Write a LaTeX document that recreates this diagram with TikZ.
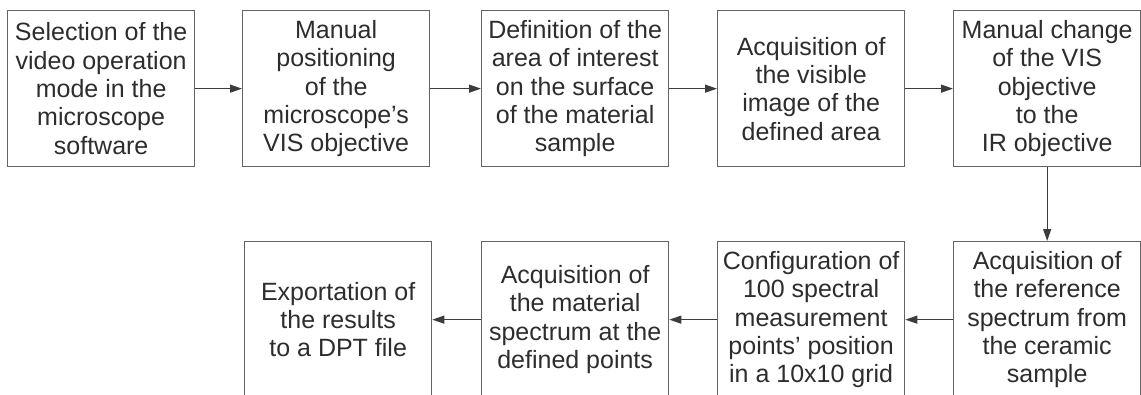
\documentclass[tikz,border=0pt]{standalone}
\usepackage{fontspec}
\setmainfont{Liberation Sans}
\usetikzlibrary{arrows.meta}
\definecolor{inkgray}{RGB}{45,45,45}
\definecolor{framegray}{RGB}{100,100,100}
\definecolor{arrowgray}{RGB}{60,60,60}
\begin{document}
\begin{tikzpicture}[x=1pt,y=-1pt,
  stepbox/.style={draw=framegray, line width=1.3pt, anchor=north west,
    minimum width=187pt, minimum height=156pt, inner sep=0pt,
    align=center, text=inkgray, font=\fontsize{25}{28.3}\selectfont},
  flow/.style={draw=arrowgray, line width=1.2pt,
    -{Triangle[length=12pt,width=8pt]}}]
\clip (0,0) rectangle (1141,394);
% upper row, left to right
\node[stepbox] (s1) at (7,10)   {Selection of the\\video operation\\mode in the\\microscope\\software};
\node[stepbox] (s2) at (242,10) {Manual\\positioning\\of the\\microscope’s\\VIS objective};
\node[stepbox] (s3) at (481,10) {Definition of the\\area of interest\\on the surface\\of the material\\sample};
\node[stepbox] (s4) at (717,10) {Acquisition of\\the visible\\image of the\\defined area};
\node[stepbox] (s5) at (953,10) {Manual change\\of the VIS\\objective\\to the\\IR objective};
% lower row, right to left
\node[stepbox] (s6) at (953,241) {Acquisition of\\the reference\\spectrum from\\the ceramic\\sample};
\node[stepbox] (s7) at (717,241) {Configuration of\\100 spectral\\measurement\\points’ position\\in a 10x10 grid};
\node[stepbox] (s8) at (481,241) {Acquisition of\\the material\\spectrum at the\\defined points};
\node[stepbox] (s9) at (244,241) {Exportation of\\the results\\to a DPT file};
% connectors
\draw[flow] (s1.east) -- (s2.west);
\draw[flow] (s2.east) -- (s3.west);
\draw[flow] (s3.east) -- (s4.west);
\draw[flow] (s4.east) -- (s5.west);
\draw[flow] (s5.south) -- (s6.north);
\draw[flow] (s6.west) -- (s7.east);
\draw[flow] (s7.west) -- (s8.east);
\draw[flow] (s8.west) -- (s9.east);
\end{tikzpicture}
\end{document}
